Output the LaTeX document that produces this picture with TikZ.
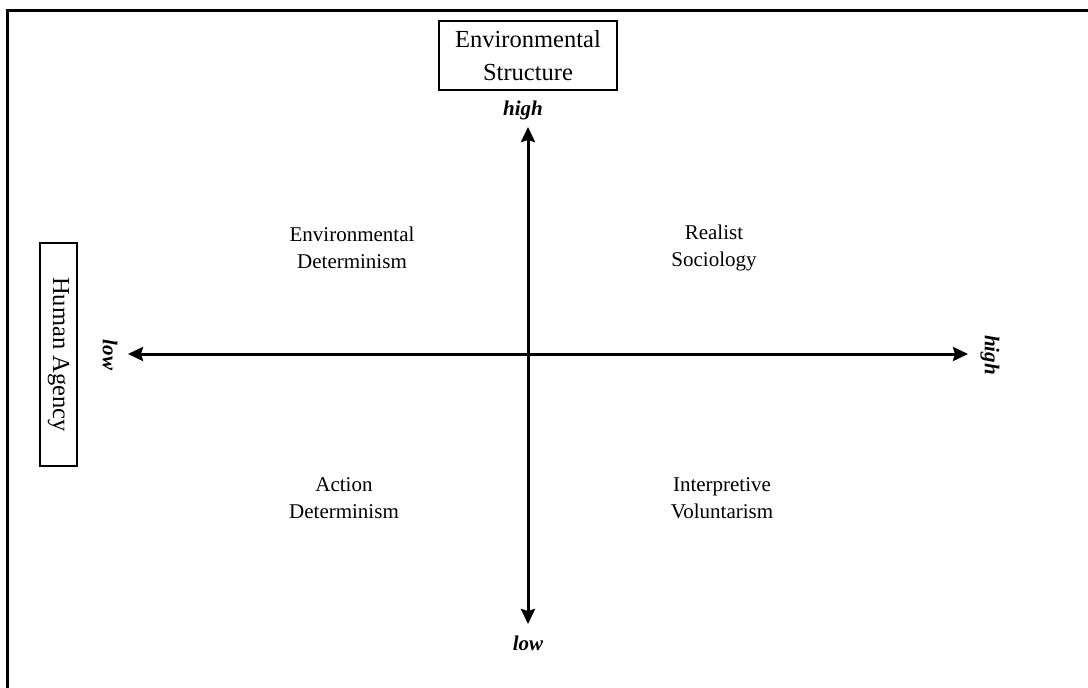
\documentclass[tikz,border=0pt]{standalone}
\usepackage{fontspec}
\setmainfont{Liberation Serif}
\usetikzlibrary{arrows.meta}
\begin{document}
\begin{tikzpicture}[x=1pt,y=-1pt,
  titlebox/.style={draw, line width=2.5pt, font=\fontsize{24.5}{33}\selectfont,
    align=center, inner sep=0pt},
  quadlabel/.style={font=\fontsize{21}{27}\selectfont, align=center},
  axislabel/.style={font=\fontsize{21}{24}\selectfont\bfseries\itshape, inner sep=0pt},
  axistip/.tip={Stealth[length=15pt,width=14pt,inset=2pt]},
  axis/.style={line width=3pt, axistip-axistip}]
\useasboundingbox (0,0) rectangle (1088,688);
% page frame (right and bottom edges lie beyond the page)
\draw[line width=3pt] (7,10) rectangle (1110,710);

% axis titles
\node[titlebox, minimum width=178pt, minimum height=69pt] (envstruct) at (528,55.5)
  {Environmental\\Structure};
\node[titlebox, rotate=-90, minimum width=223pt, minimum height=37pt] (humagency) at (58.5,354.5)
  {Human Agency};

% axis end points
\coordinate (vtop) at (528,127);
\coordinate (vbot) at (528,624);
\coordinate (hleft) at (128,354);
\coordinate (hright) at (968,354);

\draw[axis] (vbot) -- (vtop);
\draw[axis] (hleft) -- (hright);

% axis end labels
\node[axislabel] (hightop) at (523,110) {high};
\node[axislabel] (lowbot) at (528,643) {low};
\node[axislabel, rotate=-90] (lowleft) at (110,355) {low};
\node[axislabel, rotate=-90] (highright) at (990,355) {high};

% quadrants
\node[quadlabel] (q1) at (352,248) {Environmental\\Determinism};
\node[quadlabel] (q2) at (714,248) {Realist\\Sociology};
\node[quadlabel] (q3) at (344,498) {Action\\Determinism};
\node[quadlabel] (q4) at (722,498) {Interpretive\\Voluntarism};
\end{tikzpicture}
\end{document}
